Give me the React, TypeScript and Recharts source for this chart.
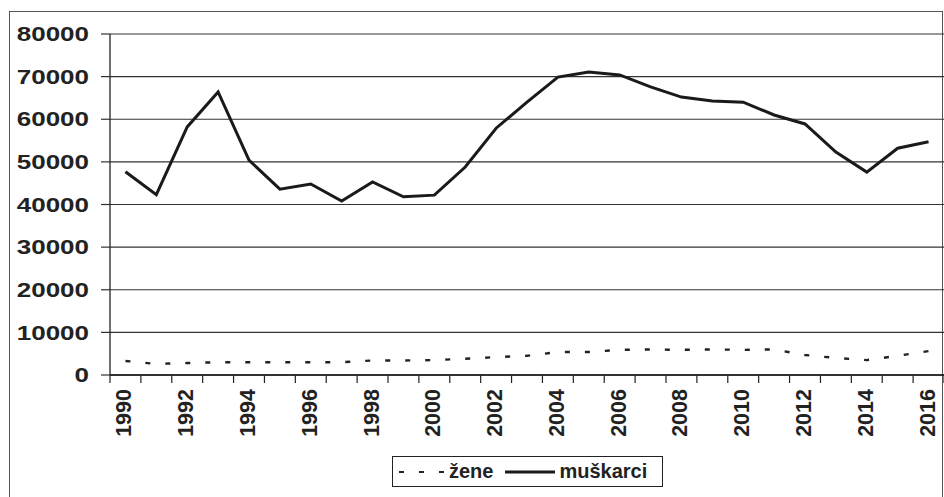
import React from "react"
import { LineChart, Line, XAxis, YAxis, CartesianGrid } from "recharts"

const years = [
  1990, 1991, 1992, 1993, 1994, 1995, 1996, 1997, 1998, 1999, 2000, 2001, 2002, 2003,
  2004, 2005, 2006, 2007, 2008, 2009, 2010, 2011, 2012, 2013, 2014, 2015, 2016,
]

const muskarci = [
  47700, 42300, 58200, 66400, 50400, 43600, 44800, 40800, 45300, 41800, 42200, 48800, 57900, 64000,
  69900, 71100, 70400, 67600, 65200, 64300, 64000, 61000, 58900, 52300, 47600, 53200, 54700,
]

const zene = [
  3300, 2600, 2800, 3000, 3000, 3000, 3000, 3000, 3400, 3400, 3500, 3800, 4200, 4500,
  5400, 5400, 5900, 6000, 5900, 6000, 5900, 6000, 4700, 4000, 3500, 4500, 5600,
]

const yTicks = [0, 10000, 20000, 30000, 40000, 50000, 60000, 70000, 80000]

const data = years.map((year, i) => ({ year, zene: zene[i], muskarci: muskarci[i] }))

// tick marks sit between categories, labels every second year
const boundaries = years.map((y) => y - 0.5).concat(years[years.length - 1] + 0.5)
const labelYears = years.filter((y) => y % 2 === 0)
const xTicks = [...boundaries, ...labelYears].sort((a, b) => a - b)

const FONT = "'Liberation Sans', Arial, sans-serif"

function XTick(props: any) {
  const { x, y, payload } = props
  const v = payload.value
  if (v % 1 !== 0) {
    return <line x1={x} x2={x} y1={y} y2={y + 8} stroke="#222" strokeWidth={1.2} />
  }
  return (
    <text
      transform={`translate(${x + 6},${y + 14}) rotate(-90)`}
      textAnchor="end"
      fontSize={21.5}
      fontWeight="bold"
      fontFamily={FONT}
      fill="#222"
    >
      {v}
    </text>
  )
}

function YTick(props: any) {
  const { x, y, payload } = props
  return (
    <text
      transform={`translate(${x},${y}) scale(1.3,1)`}
      textAnchor="end"
      dy="0.36em"
      fontSize={20}
      fontWeight="bold"
      fontFamily={FONT}
      fill="#222"
    >
      {payload.value}
    </text>
  )
}

export default function App() {
  return (
    <div
      style={{
        position: "absolute",
        left: 0,
        top: 0,
        width: 944,
        height: 497,
        overflow: "hidden",
        background: "#fff",
        fontFamily: FONT,
      }}
    >
      <div
        style={{
          position: "absolute",
          left: 9,
          top: 11,
          width: 932,
          height: 520,
          border: "1px solid #555",
        }}
      />
      <div style={{ position: "absolute", left: 0, top: 0 }}>
        <LineChart width={944} height={497} data={data} margin={{ top: 34, right: 0, bottom: 0, left: 0 }}>
          <CartesianGrid vertical={false} stroke="#333" strokeWidth={1.2} />
          <XAxis
            dataKey="year"
            type="number"
            domain={[1989.5, 2016.5]}
            ticks={xTicks}
            interval={0}
            height={122}
            tickSize={0}
            tickMargin={0}
            tickLine={false}
            axisLine={{ stroke: "#111", strokeWidth: 1.5 }}
            tick={<XTick />}
          />
          <YAxis
            width={110}
            domain={[0, 80000]}
            ticks={yTicks}
            interval={0}
            tickSize={9}
            tickMargin={12}
            tickLine={{ stroke: "#333", strokeWidth: 1.2 }}
            axisLine={{ stroke: "#111", strokeWidth: 1.2 }}
            tick={<YTick />}
          />
          <Line
            type="linear"
            dataKey="zene"
            stroke="#222"
            strokeWidth={2.4}
            strokeDasharray="5 15"
            dot={false}
            isAnimationActive={false}
          />
          <Line
            type="linear"
            dataKey="muskarci"
            stroke="#1a1a1a"
            strokeWidth={3}
            dot={false}
            isAnimationActive={false}
          />
        </LineChart>
      </div>
      <div
        style={{
          position: "absolute",
          left: 392,
          top: 456,
          width: 269,
          height: 29,
          border: "1px solid #222",
          display: "flex",
          alignItems: "center",
          fontSize: 20,
          fontWeight: "bold",
          color: "#222",
          whiteSpace: "nowrap",
        }}
      >
        <svg width={50} height={10} style={{ marginLeft: 4 }}>
          <line x1={2} x2={50} y1={5} y2={5} stroke="#222" strokeWidth={2.2} strokeDasharray="5 15" />
        </svg>
        <span style={{ marginLeft: 2 }}>žene</span>
        <svg width={52} height={10} style={{ marginLeft: 12 }}>
          <line x1={0} x2={50} y1={5} y2={5} stroke="#1a1a1a" strokeWidth={3} />
        </svg>
        <span style={{ marginLeft: 2 }}>muškarci</span>
      </div>
    </div>
  )
}
